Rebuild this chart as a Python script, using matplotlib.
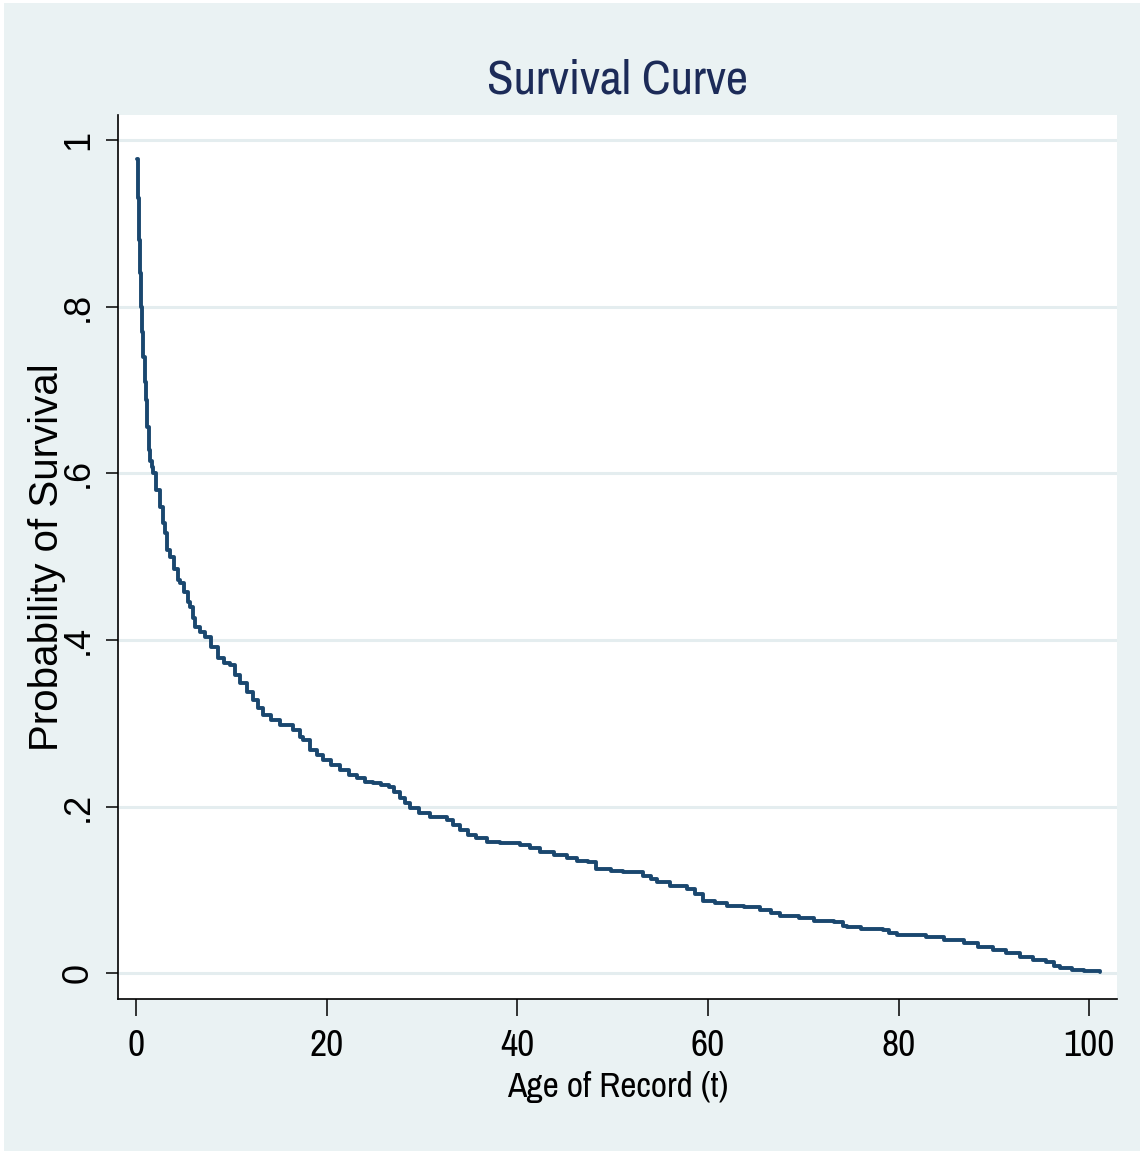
import matplotlib
matplotlib.use("Agg")
import matplotlib.pyplot as plt
from matplotlib.patches import Rectangle

# ---- data (Kaplan-Meier style survival estimate) ----
age_t = [0.15, 0.25, 0.35, 0.42, 0.49, 0.6, 0.77, 0.9, 1.02, 1.2, 1.36, 1.47, 1.65,
         1.82, 2.1, 2.52, 2.8, 3.04, 3.22, 3.57, 4.0, 4.44, 4.62, 5.0, 5.49, 5.66,
         6.0, 6.19, 6.7, 7.24, 7.9, 8.63, 9.2, 9.86, 10.4, 10.9, 11.6, 12.3, 12.8,
         13.35, 14.2, 15.1, 16.5, 17.2, 17.55, 18.25, 19.0, 19.65, 20.5, 21.4, 22.3,
         23.15, 24.0, 24.9, 25.7, 26.5, 27.1, 27.7, 28.2, 28.7, 29.7, 30.8, 32.6,
         33.2, 34.0, 34.8, 35.7, 36.8, 38.2, 40.3, 41.3, 42.4, 43.8, 45.2, 46.3,
         47.4, 48.3, 49.8, 51.1, 53.2, 54.0, 54.6, 56.0, 57.8, 58.6, 59.5, 60.7,
         62.0, 63.8, 65.5, 66.6, 67.6, 69.5, 71.1, 73.2, 74.2, 74.6, 76.0, 78.4,
         79.0, 79.8, 82.9, 84.8, 86.8, 88.3, 89.9, 91.3, 92.7, 94.1, 95.5, 96.3,
         96.9, 98.2, 99.4, 101.1]
survival = [0.977, 0.93, 0.880, 0.84, 0.800, 0.77, 0.740, 0.71, 0.688, 0.655, 0.628,
            0.615, 0.608, 0.600, 0.58, 0.560, 0.54, 0.528, 0.508, 0.500, 0.485,
            0.472, 0.468, 0.458, 0.446, 0.440, 0.426, 0.416, 0.410, 0.404, 0.392,
            0.378, 0.372, 0.370, 0.358, 0.348, 0.338, 0.328, 0.318, 0.310, 0.304,
            0.298, 0.292, 0.284, 0.280, 0.268, 0.262, 0.256, 0.250, 0.244, 0.238,
            0.234, 0.230, 0.228, 0.226, 0.224, 0.218, 0.210, 0.204, 0.198, 0.192,
            0.188, 0.184, 0.178, 0.172, 0.166, 0.162, 0.158, 0.156, 0.154, 0.150,
            0.146, 0.142, 0.138, 0.135, 0.133, 0.125, 0.123, 0.121, 0.117, 0.113,
            0.109, 0.105, 0.101, 0.095, 0.087, 0.084, 0.081, 0.079, 0.076, 0.072,
            0.069, 0.066, 0.063, 0.062, 0.057, 0.055, 0.053, 0.052, 0.048, 0.046,
            0.043, 0.040, 0.036, 0.032, 0.028, 0.024, 0.020, 0.016, 0.013, 0.009,
            0.006, 0.004, 0.003, 0.001]

x_ticks = [0, 20, 40, 60, 80, 100]
x_tick_labels = ["0", "20", "40", "60", "80", "100"]
y_ticks = [0, 0.2, 0.4, 0.6, 0.8, 1.0]
y_tick_labels = ["0", ".2", ".4", ".6", ".8", "1"]

title_text = "Survival Curve"
x_label = "Age of Record (t)"
y_label = "Probability of Survival"

# ---- styling ----
BG = "#EAF2F3"
GRID = "#E4EDEF"
LINE = "#1A476F"
TITLE_C = "#1C2B58"
NARROW = ["Liberation Sans Narrow", "Archivo Narrow", "Roboto Condensed", "DejaVu Sans"]
REG = ["Liberation Sans", "Arial", "DejaVu Sans"]

W, H = 1143, 1154
fig = plt.figure(figsize=(W / 100, H / 100), dpi=100, facecolor="white")
fig.patches.append(Rectangle((4 / W, 3 / H), (W - 7) / W, (H - 6) / H,
                             transform=fig.transFigure, facecolor=BG,
                             edgecolor="none", zorder=-10))

left, right, top, bottom = 118, 1117, 115, 998.7
ax = fig.add_axes([left / W, 1 - bottom / H, (right - left) / W, (bottom - top) / H])
ax.set_zorder(1)
ax.set_facecolor("white")

ax.plot(age_t, survival, drawstyle="steps-post", color=LINE, lw=2.8,
        solid_joinstyle="round", solid_capstyle="round", zorder=3)

ax.set_xlim(-1.89, 102.9)
ax.set_ylim(-0.0305, 1.030)

for yv in y_ticks:
    ax.axhline(yv, color=GRID, lw=2.2, zorder=1)

for s in ["top", "right"]:
    ax.spines[s].set_visible(False)
for s in ["left", "bottom"]:
    ax.spines[s].set_color("black")
    ax.spines[s].set_linewidth(1.2)

ax.set_xticks(x_ticks)
ax.set_xticklabels(x_tick_labels, family=NARROW, fontsize=27)
ax.set_yticks(y_ticks)
ax.set_yticklabels(y_tick_labels, family=REG, fontsize=26, rotation=90, va="center")
ax.tick_params(axis="x", length=12, width=1.1, pad=10, colors="black")
ax.tick_params(axis="y", length=9, width=1.1, pad=7, colors="black")

ax.set_xlabel(x_label, family=NARROW, fontsize=25.5, color="black")
ax.xaxis.set_label_coords(0.5, -0.111)
ax.xaxis.label.set_va("baseline")

ax.set_ylabel(y_label, family=REG, fontsize=29, color="black")
ax.yaxis.set_label_coords(-0.071, 0.5)
ax.yaxis.label.set_va("center")

ax.set_title(title_text, family=NARROW, fontsize=35, color=TITLE_C,
             y=1.0238, va="baseline", pad=0)

fig.savefig("out.png", dpi=100, facecolor="white")
